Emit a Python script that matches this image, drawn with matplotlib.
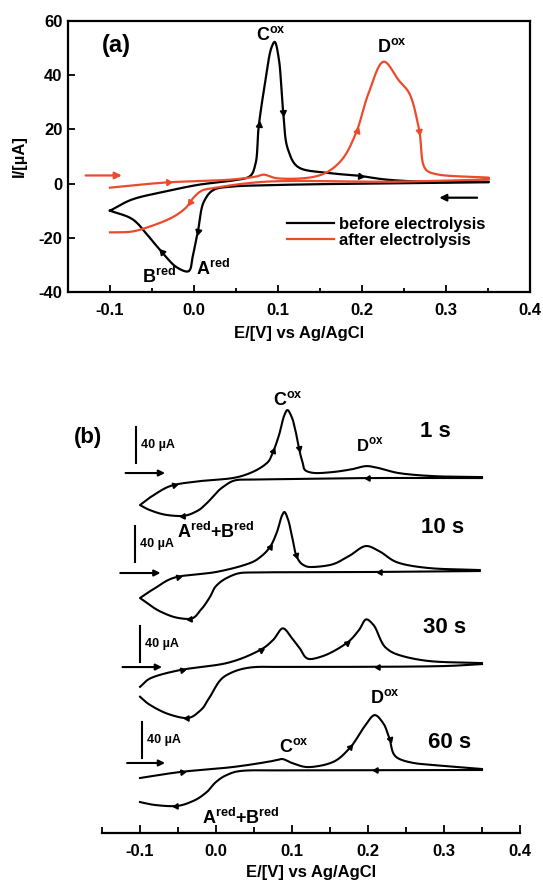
import numpy as np
import matplotlib
matplotlib.use("Agg")
import matplotlib.pyplot as plt
from matplotlib.ticker import MultipleLocator

plt.rcParams['font.family'] = ['Liberation Sans', 'DejaVu Sans']
plt.rcParams['font.weight'] = 'bold'
plt.rcParams['mathtext.fontset'] = 'custom'
plt.rcParams['mathtext.rm'] = 'Liberation Sans'
plt.rcParams['mathtext.bf'] = 'Liberation Sans:bold'

RED = '#ec4a2c'

# ---------------- panel (a) data: E in V, I in uA ----------------
before_fwd_E = [-0.1, -0.074, -0.034, 0.006, 0.045, 0.066, 0.073, 0.077, 0.085, 0.092, 0.096,
                0.101, 0.106, 0.112, 0.125, 0.157, 0.196, 0.228, 0.276, 0.351]
before_fwd_I = [-10.0, -5.9, -2.9, -0.4, 1.1, 2.6, 7.0, 21.0, 38.0, 50.0, 52.3,
                46.0, 27.0, 12.5, 5.9, 4.0, 2.9, 1.5, 0.7, 0.7]
before_rev_E = [0.351, 0.2, 0.1, 0.045, 0.024, 0.012, 0.005, -0.001, -0.007, -0.02, -0.038, -0.054, -0.074, -0.1]
before_rev_I = [0.5, 0.0, -0.5, -1.1, -2.2, -6.5, -17.0, -26.0, -32.4, -31.0, -25.4, -19.5, -13.0, -10.0]

after_fwd_E = [-0.1, -0.034, 0.045, 0.074, 0.083, 0.098, 0.137, 0.157, 0.176, 0.193, 0.208,
               0.226, 0.244, 0.256, 0.268, 0.276, 0.288, 0.351]
after_fwd_I = [-1.5, 0.4, 1.5, 2.6, 3.3, 2.0, 2.2, 4.0, 8.8, 18.8, 33.5,
               45.0, 38.0, 33.5, 19.9, 5.2, 3.5, 2.2]
after_rev_E = [0.351, 0.236, 0.085, 0.026, 0.01, 0.0, -0.01, -0.026, -0.054, -0.074, -0.1]
after_rev_I = [1.5, 0.7, 0.7, -1.5, -2.5, -5.0, -9.0, -12.5, -16.0, -17.7, -18.0]

# ---------------- panel (b) data: E in V, I in uA (relative) ----------------
times = ['1 s', '10 s', '30 s', '60 s']
offsets_b = [394.4, 290.0, 184.4, 70.0]

t1_fwd_E = [-0.1, -0.08, -0.056, -0.02, 0.022, 0.045, 0.067, 0.075, 0.083, 0.09, 0.094, 0.1, 0.105,
            0.109, 0.114, 0.119, 0.13, 0.154, 0.18, 0.198, 0.215, 0.24, 0.285, 0.35]
t1_fwd_I = [-30.0, -17.8, -7.8, -3.3, 0.0, 5.6, 16.7, 29.0, 48.0, 70.0, 75.6, 67.0, 51.0,
            34.0, 17.0, 7.8, 5.6, 6.7, 10.0, 13.3, 11.0, 5.6, 2.2, 1.1]
t1_rev_E = [0.35, 0.2, 0.1, 0.045, 0.027, 0.009, -0.012, -0.025, -0.043, -0.065, -0.087, -0.1]
t1_rev_I = [0.0, 0.0, -1.1, -1.7, -2.2, -10.0, -27.8, -36.7, -42.0, -41.0, -35.6, -30.0]

t2_fwd_E = [-0.1, -0.08, -0.052, 0.0, 0.045, 0.06, 0.071, 0.08, 0.087, 0.09, 0.095, 0.101, 0.107,
            0.115, 0.123, 0.15, 0.175, 0.198, 0.215, 0.241, 0.28, 0.347]
t2_fwd_I = [-28.9, -17.8, -5.6, 0.0, 10.0, 17.8, 27.8, 44.0, 63.0, 66.7, 57.8, 35.6, 15.6,
            7.8, 5.6, 7.8, 17.8, 28.9, 23.0, 10.0, 4.4, 2.2]
t2_rev_E = [0.347, 0.2, 0.05, 0.032, 0.014, 0.0, -0.008, -0.02, -0.034, -0.05, -0.073, -0.1]
t2_rev_I = [1.1, 0.0, -0.5, -1.1, -6.7, -15.6, -27.8, -42.0, -52.0, -51.0, -44.0, -28.9]

t3_fwd_E = [-0.1, -0.085, -0.047, 0.014, 0.058, 0.075, 0.088, 0.1, 0.11, 0.123, 0.14, 0.172,
            0.188, 0.198, 0.207, 0.224, 0.241, 0.28, 0.35]
t3_fwd_I = [-22.0, -12.0, -3.3, 4.4, 18.9, 30.0, 43.0, 32.0, 21.0, 8.9, 12.0, 26.7,
            41.0, 53.0, 47.0, 21.0, 13.3, 6.7, 4.4]
t3_rev_E = [0.35, 0.3, 0.1, 0.045, 0.014, -0.008, -0.02, -0.038, -0.06, -0.087, -0.1]
t3_rev_I = [3.3, 1.1, 0.0, -0.5, -8.9, -33.0, -47.8, -56.7, -53.0, -42.0, -33.0]

t4_fwd_E = [-0.1, -0.047, 0.022, 0.067, 0.08, 0.087, 0.1, 0.119, 0.135, 0.154, 0.176, 0.195,
            0.209, 0.22, 0.228, 0.239, 0.26, 0.285, 0.35]
t4_fwd_I = [-8.9, -2.2, 3.3, 8.9, 11.0, 12.2, 7.8, 3.3, 4.4, 8.9, 24.4, 47.8,
            61.0, 52.0, 35.6, 13.3, 7.8, 5.6, 1.1]
t4_rev_E = [0.35, 0.1, 0.032, 0.014, 0.0, -0.012, -0.03, -0.052, -0.08, -0.1]
t4_rev_I = [0.0, -0.5, -1.1, -5.6, -13.3, -24.4, -34.4, -40.0, -38.9, -35.6]

traces_b = [
    (t1_fwd_E, t1_fwd_I, t1_rev_E, t1_rev_I),
    (t2_fwd_E, t2_fwd_I, t2_rev_E, t2_rev_I),
    (t3_fwd_E, t3_fwd_I, t3_rev_E, t3_rev_I),
    (t4_fwd_E, t4_fwd_I, t4_rev_E, t4_rev_I),
]
# where the small direction arrows sit (E values on forward / reverse branch)
marks_fwd = [[-0.056, 0.075, 0.109], [-0.052, 0.071, 0.105], [-0.047, 0.058, 0.172], [-0.047, 0.176, 0.228]]
marks_rev = [[0.205, -0.043], [0.219, -0.034], [0.218, -0.038], [0.218, -0.052]]
scalebar_bottom = [411.0, 301.0, 190.0, 83.0]
scalebar_E = [-0.105, -0.106, -0.1, -0.097]


def spline(E, I, n=30):
    # centripetal Catmull-Rom through the read-off points
    P = np.column_stack([np.asarray(E, float) / 0.05, np.asarray(I, float) / 10.0])
    P = np.vstack([2 * P[0] - P[1], P, 2 * P[-1] - P[-2]])
    out = []
    for i in range(1, len(P) - 2):
        p0, p1, p2, p3 = P[i - 1], P[i], P[i + 1], P[i + 2]
        t0 = 0.0
        t1 = t0 + np.linalg.norm(p1 - p0) ** 0.5 + 1e-9
        t2 = t1 + np.linalg.norm(p2 - p1) ** 0.5 + 1e-9
        t3 = t2 + np.linalg.norm(p3 - p2) ** 0.5 + 1e-9
        t = np.linspace(t1, t2, n)[:, None]
        a1 = (t1 - t) / (t1 - t0) * p0 + (t - t0) / (t1 - t0) * p1
        a2 = (t2 - t) / (t2 - t1) * p1 + (t - t1) / (t2 - t1) * p2
        a3 = (t3 - t) / (t3 - t2) * p2 + (t - t2) / (t3 - t2) * p3
        b1 = (t2 - t) / (t2 - t0) * a1 + (t - t0) / (t2 - t0) * a2
        b2 = (t3 - t) / (t3 - t1) * a2 + (t - t1) / (t3 - t1) * a3
        c = (t2 - t) / (t2 - t1) * b1 + (t - t1) / (t2 - t1) * b2
        out.append(c if i == 1 else c[1:])
    C = np.vstack(out)
    return C[:, 0] * 0.05, C[:, 1] * 10.0


def direction_arrow(ax, xs, ys, at, color, size=5):
    k = int(np.argmin(np.abs(xs - at)))
    k = min(k, len(xs) - 4)
    p = ax.transData.transform(np.column_stack([xs[k:k + 4], ys[k:k + 4]]))
    ang = np.degrees(np.arctan2(p[-1, 1] - p[0, 1], p[-1, 0] - p[0, 0]))
    ax.plot([xs[k + 1]], [ys[k + 1]], marker=(3, 0, ang - 90), markersize=size,
            color=color, linestyle='none')


fig = plt.figure(figsize=(5.43, 8.81), dpi=100)

# ---------------- panel (a) ----------------
ax = fig.add_axes([68 / 543, 1 - 292 / 881, 462 / 543, 271 / 881])
ax.set_xlim(-0.15, 0.4)
ax.set_ylim(-40, 60)

bfE, bfI = spline(before_fwd_E, before_fwd_I)
brE, brI = spline(before_rev_E, before_rev_I)
afE, afI = spline(after_fwd_E, after_fwd_I)
arE, arI = spline(after_rev_E, after_rev_I)
ax.plot(np.r_[bfE, brE], np.r_[bfI, brI], color='black', lw=1.6, label='before electrolysis')
ax.plot(np.r_[afE, arE], np.r_[afI, arI], color=RED, lw=1.6, label='after electrolysis')
for at in [0.077, 0.106, 0.196]:
    direction_arrow(ax, bfE, bfI, at, 'black')
for at in [0.005, -0.038]:
    direction_arrow(ax, brE, brI, at, 'black')
for at in [-0.034, 0.193, 0.268]:
    direction_arrow(ax, afE, afI, at, RED)
direction_arrow(ax, arE, arI, -0.004, RED)

ax.annotate('', xy=(-0.086, 3), xytext=(-0.129, 3),
            arrowprops=dict(arrowstyle='-|>', color=RED, lw=1.6, mutation_scale=10,
                            shrinkA=0, shrinkB=0))
ax.annotate('', xy=(0.292, -5.2), xytext=(0.337, -5.2),
            arrowprops=dict(arrowstyle='-|>', color='black', lw=1.6, mutation_scale=10,
                            shrinkA=0, shrinkB=0))

ax.xaxis.set_minor_locator(MultipleLocator(0.05))
ax.tick_params(which='both', direction='in', labelsize=12, width=1.3)
ax.tick_params(which='major', length=5)
ax.tick_params(which='minor', length=3)
ax.tick_params(axis='x', pad=8)
ax.tick_params(axis='y', pad=4)
ax.set_xticks([-0.1, 0.0, 0.1, 0.2, 0.3, 0.4])
ax.set_xticklabels(['-0.1', '0.0', '0.1', '0.2', '0.3', '0.4'])
ax.set_yticks([-40, -20, 0, 20, 40, 60])
ax.set_yticklabels(['-40', '-20', '0', '20', '40', '60'])
for s in ax.spines.values():
    s.set_linewidth(1.6)
ax.set_xlabel('E/[V] vs Ag/AgCl', fontsize=12, fontweight='bold')
ax.set_ylabel('I/[µA]', fontsize=12, fontweight='bold')
ax.xaxis.set_label_coords(0.5, -0.125)
ax.yaxis.set_label_coords(-0.089, 0.5)

ax.text(-0.093, 51, '(a)', fontsize=17, fontweight='bold', ha='center', va='center')
ax.text(0.092, 55, r'$\mathbf{C}^{\mathrm{ox}}$', fontsize=13, ha='center', va='center')
ax.text(0.236, 50.5, r'$\mathbf{D}^{\mathrm{ox}}$', fontsize=13, ha='center', va='center')
ax.text(-0.042, -34.5, r'$\mathbf{B}^{\mathrm{red}}$', fontsize=13, ha='center', va='center')
ax.text(0.023, -31.5, r'$\mathbf{A}^{\mathrm{red}}$', fontsize=13, ha='center', va='center')

ax.legend(loc='center left', bbox_to_anchor=(0.474, 0.22), frameon=False,
          handlelength=2.8, handletextpad=0.3, labelspacing=0.1, borderpad=0,
          borderaxespad=0, prop={'size': 12, 'weight': 'bold'})

# ---------------- panel (b) ----------------
bx = fig.add_axes([102 / 543, 1 - 833 / 881, 418 / 543, 438 / 881])
bx.set_xlim(-0.15, 0.4)
bx.set_ylim(0, 486.7)
for k, (fE, fI, rE, rI) in enumerate(traces_b):
    off = offsets_b[k]
    sfE, sfI = spline(fE, fI)
    srE, srI = spline(rE, rI)
    sfI = sfI + off
    srI = srI + off
    if k < 2:
        bx.plot(np.r_[sfE[::-1], srE[::-1][1:]], np.r_[sfI[::-1], srI[::-1][1:]], color='black', lw=1.5)
    else:
        bx.plot(sfE, sfI, color='black', lw=1.5)
        bx.plot(srE, srI, color='black', lw=1.5)
    for m in marks_fwd[k]:
        direction_arrow(bx, sfE, sfI, m, 'black', size=4.5)
    for m in marks_rev[k]:
        direction_arrow(bx, srE, srI, m, 'black', size=4.5)
    # 40 uA scale bar
    sb = scalebar_bottom[k]
    sx = scalebar_E[k]
    bx.plot([sx, sx], [sb, sb + 40], color='black', lw=1.5)
    bx.text(sx + 0.006, sb + 20, '40 µA', fontsize=9, fontweight='bold', ha='left', va='center')

arrow_b = [(-0.119, -0.067, 400.0), (-0.126, -0.073, 288.9), (-0.123, -0.071, 184.4), (-0.117, -0.067, 77.8)]
for x0, x1, yv in arrow_b:
    bx.annotate('', xy=(x1, yv), xytext=(x0, yv),
                arrowprops=dict(arrowstyle='-|>', color='black', lw=1.5, mutation_scale=9,
                                shrinkA=0, shrinkB=0))

time_pos = [(0.288, 445.6), (0.298, 340.0), (0.301, 227.8), (0.307, 101.1)]
for lab, (tx, ty) in zip(times, time_pos):
    bx.text(tx, ty, lab, fontsize=16, fontweight='bold', ha='center', va='center')

bx.text(-0.168, 440.0, '(b)', fontsize=16, fontweight='bold', ha='center', va='center')
bx.text(0.094, 481.1, r'$\mathbf{C}^{\mathrm{ox}}$', fontsize=13, ha='center', va='center')
bx.text(0.202, 431.1, r'$\mathbf{D}^{\mathrm{ox}}$', fontsize=12, ha='center', va='center')
bx.text(0.0, 334.4, r'$\mathbf{A}^{\mathrm{red}}\mathbf{+B}^{\mathrm{red}}$', fontsize=13,
        ha='center', va='center')
bx.text(0.103, 95.6, r'$\mathbf{C}^{\mathrm{ox}}$', fontsize=13, ha='center', va='center')
bx.text(0.222, 150.0, r'$\mathbf{D}^{\mathrm{ox}}$', fontsize=13, ha='center', va='center')
bx.text(0.033, 16.7, r'$\mathbf{A}^{\mathrm{red}}\mathbf{+B}^{\mathrm{red}}$', fontsize=13,
        ha='center', va='center')

for side in ['top', 'right', 'left']:
    bx.spines[side].set_visible(False)
bx.spines['bottom'].set_linewidth(1.6)
bx.set_yticks([])
bx.xaxis.set_minor_locator(MultipleLocator(0.05))
bx.set_xticks([-0.1, 0.0, 0.1, 0.2, 0.3, 0.4])
bx.set_xticklabels(['-0.1', '0.0', '0.1', '0.2', '0.3', '0.4'])
bx.tick_params(which='both', direction='in', labelsize=12, width=1.3, pad=8)
bx.tick_params(which='major', length=6)
bx.tick_params(which='minor', length=4)
bx.set_xlabel('E/[V] vs Ag/AgCl', fontsize=12, fontweight='bold')
bx.xaxis.set_label_coords(0.5, -0.072)

fig.savefig('out.png', dpi=100)
